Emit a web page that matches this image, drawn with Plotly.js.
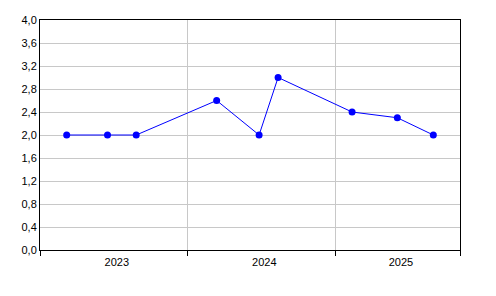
<!DOCTYPE html>
<html>
<head>
<meta charset="utf-8">
<script src="https://cdn.plot.ly/plotly-3.0.1.min.js"></script>
<style>html,body{margin:0;padding:0;background:#fff;}#chart{width:496px;height:296px;}</style>
</head>
<body>
<div id="chart"></div>
<script>
var dates = ['2023-03-08','2023-06-17','2023-08-27','2024-03-13','2024-06-26','2024-08-12','2025-02-11','2025-06-03','2025-08-31'];
var values = [2.0, 2.0, 2.0, 2.6, 2.0, 3.0, 2.4, 2.3, 2.0];
var yearLabels = ['2023','2024','2025'];
var yearLabelPos = ['2023-07-10','2024-07-09','2025-06-12'];
var yearBounds = ['2023-01-01','2024-01-01','2025-01-01','2025-11-05'];
var xRange = ['2023-01-01','2025-11-05'];
var yTicks = [0,0.4,0.8,1.2,1.6,2.0,2.4,2.8,3.2,3.6,4.0];

var font = {family:'Liberation Sans, Arial, sans-serif', size:11, color:'#000'};

var traces = [{
  x: dates, y: values, type:'scatter', mode:'lines+markers',
  line:{color:'#0000ff', width:1},
  marker:{color:'#0000ff', size:7},
  xaxis:'x', yaxis:'y', hoverinfo:'none'
},{
  x: [xRange[0]], y:[null], type:'scatter', mode:'markers',
  xaxis:'x2', yaxis:'y', showlegend:false, hoverinfo:'none'
}];

var layout = {
  width:496, height:296,
  margin:{l:40, r:36, t:20, b:46, pad:0},
  paper_bgcolor:'#fff', plot_bgcolor:'#fff',
  showlegend:false,
  separators:',.',
  font: font,
  xaxis:{
    type:'date', range:xRange, tickmode:'array', tickvals:yearBounds,
    showticklabels:false, ticks:'outside', ticklen:5, tickcolor:'#000', tickwidth:1,
    showgrid:true, gridcolor:'#c8c8c8', gridwidth:1,
    showline:true, linecolor:'#000', linewidth:1, mirror:true, zeroline:false
  },
  xaxis2:{
    type:'date', range:xRange, overlaying:'x', side:'bottom', anchor:'y',
    tickmode:'array', tickvals:yearLabelPos, ticktext:yearLabels,
    ticks:'outside', ticklen:2, tickcolor:'rgba(0,0,0,0)',
    showgrid:false, showline:false, zeroline:false, tickfont:font
  },
  yaxis:{
    range:[0,4.0], tickmode:'array', tickvals:yTicks, tickformat:'.1f',
    ticks:'', showgrid:true, gridcolor:'#c8c8c8', gridwidth:1,
    showline:true, linecolor:'#000', linewidth:1, mirror:true, zeroline:false,
    tickfont:font
  }
};
Plotly.newPlot('chart', traces, layout, {staticPlot:true, displayModeBar:false});
</script>
</body>
</html>
